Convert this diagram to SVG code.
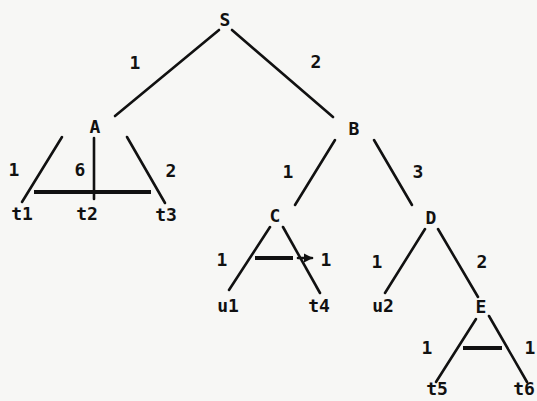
<svg xmlns="http://www.w3.org/2000/svg" width="537" height="401" viewBox="0 0 537 401">
<style>
text{font-family:"DejaVu Sans Mono","Liberation Mono",monospace;font-weight:bold;font-size:18px;fill:#111;text-anchor:middle}
.e{stroke:#111;stroke-width:2.6;fill:none;stroke-linecap:round}
.bar{stroke:#111;stroke-width:3.8;fill:none}
</style>
<defs>
<marker id="ah" viewBox="0 0 10 10" refX="9" refY="5" markerWidth="3.6" markerHeight="3.6" orient="auto" markerUnits="strokeWidth">
<path d="M0,0 L10,5 L0,10 z" fill="#111"/>
</marker>
</defs>
<rect width="537" height="401" fill="#f7f7f5"/>
<g id="connectors">
<line class="e" x1="219" y1="30" x2="115" y2="116"/>
<line class="e" x1="232" y1="30" x2="333" y2="117"/>
<line class="e" x1="62" y1="137" x2="22" y2="202"/>
<line class="e" x1="94" y1="138" x2="94" y2="199"/>
<line class="e" x1="127" y1="137" x2="165" y2="203"/>
<line class="bar" x1="34" y1="192" x2="151" y2="192"/>
<line class="e" x1="335" y1="140" x2="295" y2="205"/>
<line class="e" x1="374" y1="140" x2="412" y2="205"/>
<line class="e" x1="270" y1="227" x2="229" y2="290"/>
<line class="e" x1="283" y1="227" x2="320" y2="293"/>
<line class="bar" x1="255" y1="258" x2="293" y2="258"/>
<line class="e" x1="298" y1="258" x2="312" y2="258" marker-end="url(#ah)"/>
<line class="e" x1="425" y1="229" x2="385" y2="293"/>
<line class="e" x1="438" y1="229" x2="478" y2="297"/>
<line class="e" x1="476" y1="319" x2="436" y2="382"/>
<line class="e" x1="489" y1="316" x2="527" y2="382"/>
<line class="bar" x1="463" y1="348" x2="502" y2="348"/>
</g>
<g id="edge-labels">
<text x="135" y="69">1</text>
<text x="316" y="68">2</text>
<text x="14" y="176">1</text>
<text x="80" y="176">6</text>
<text x="171" y="177">2</text>
<text x="288" y="178">1</text>
<text x="418" y="178">3</text>
<text x="222" y="266">1</text>
<text x="326" y="266">1</text>
<text x="377" y="268">1</text>
<text x="482" y="268">2</text>
<text x="427" y="354">1</text>
<text x="530" y="354">1</text>
</g>
<g id="node-S"><text x="225" y="26">S</text></g>
<g id="node-A"><text x="95" y="133">A</text></g>
<g id="node-B"><text x="354" y="135">B</text></g>
<g id="node-t1"><text x="22" y="220">t1</text></g>
<g id="node-t2"><text x="87" y="220">t2</text></g>
<g id="node-t3"><text x="166" y="221">t3</text></g>
<g id="node-C"><text x="275" y="222">C</text></g>
<g id="node-D"><text x="431" y="224">D</text></g>
<g id="node-u1"><text x="228" y="312">u1</text></g>
<g id="node-t4"><text x="319" y="312">t4</text></g>
<g id="node-u2"><text x="383" y="312">u2</text></g>
<g id="node-E"><text x="481" y="313">E</text></g>
<g id="node-t5"><text x="437" y="395">t5</text></g>
<g id="node-t6"><text x="524" y="395">t6</text></g>
</svg>
